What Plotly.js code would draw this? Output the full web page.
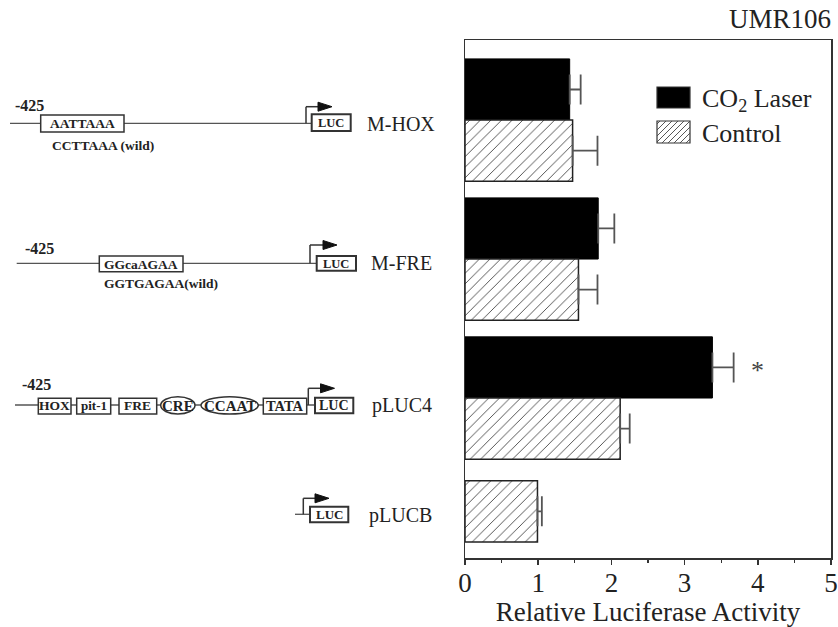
<!DOCTYPE html>
<html>
<head>
<meta charset="utf-8">
<script src="https://cdn.plot.ly/plotly-3.0.1.min.js"></script>
<style>html,body{margin:0;padding:0;background:#fff;}#chart{width:838px;height:627px;}</style>
</head>
<body>
<div id="chart"></div>
<script>
// ---- data ----
const constructs = ['M-HOX', 'M-FRE', 'pLUC4', 'pLUCB'];
const co2Laser = [1.43, 1.82, 3.38, null];
const co2LaserErr = [0.15, 0.22, 0.29, null];
const control = [1.47, 1.55, 2.12, 0.99];
const controlErr = [0.34, 0.26, 0.13, 0.06];
const xTicks = [0, 1, 2, 3, 4, 5];
const seriesNames = ['CO<sub>2</sub> Laser', 'Control'];

// ---- layout geometry (pixels) ----
const W = 838, H = 627, L = 465, R = 831, T = 40, B = 558;
const X = x => (x - L) / (R - L);
const Y = y => (B - y) / (B - T);
const FONT = 'Liberation Serif, Times New Roman, serif';
const LINEC = '#555', BOXC = '#333', TXT = '#222';

const shapes = [];
const annotations = [];
function line(x0, y0, x1, y1, w, c) {
  shapes.push({type: 'line', xref: 'paper', yref: 'paper', x0: X(x0), y0: Y(y0), x1: X(x1), y1: Y(y1),
    line: {color: c || LINEC, width: w || 1.3}});
}
function rect(x0, y0, x1, y1, w, fill) {
  shapes.push({type: 'rect', xref: 'paper', yref: 'paper', x0: X(x0), y0: Y(y0), x1: X(x1), y1: Y(y1),
    line: {color: BOXC, width: w || 1.5}, fillcolor: fill || 'white'});
}
function ellipse(x0, y0, x1, y1) {
  shapes.push({type: 'circle', xref: 'paper', yref: 'paper', x0: X(x0), y0: Y(y0), x1: X(x1), y1: Y(y1),
    line: {color: BOXC, width: 1.5}, fillcolor: 'white'});
}
function promoter(x, yBase, yTop, tip) {
  line(x, yBase, x, yTop, 1.5, '#333');
  line(x, yTop, tip - 12, yTop, 1.5, '#333');
  const p = 'M' + X(tip - 14) + ',' + Y(yTop - 4.5) + ' L' + X(tip) + ',' + Y(yTop) + ' L' + X(tip - 14) + ',' + Y(yTop + 4.5) + ' Z';
  shapes.push({type: 'path', xref: 'paper', yref: 'paper', path: p, fillcolor: '#111', line: {color: '#111', width: 1}});
}
function text(x, y, s, size, anchor, color) {
  annotations.push({xref: 'paper', yref: 'paper', x: X(x), y: Y(y), text: s, showarrow: false,
    xanchor: anchor || 'center', yanchor: 'middle', font: {family: FONT, size: size, color: color || TXT}});
}
function boxText(x0, x1, y, s, size) { text((x0 + x1) / 2, y, '<b>' + s + '</b>', size || 13); }

// Row 1: M-HOX
text(30, 106, '<b>-425</b>', 16);
line(10, 123.3, 311.7, 123.3);
rect(40.7, 115, 124, 132);
boxText(40.7, 124, 123.8, 'AATTAAA', 13.5);
promoter(306, 123.3, 106.7, 332);
rect(311.7, 114.3, 350.7, 131, 2);
boxText(311.7, 350.7, 123, 'LUC', 12.5);
text(102.5, 145.7, '<b>CCTTAAA (wild)</b>', 13.5);

// Row 2: M-FRE
text(39.5, 248, '<b>-425</b>', 16);
line(16.7, 263.3, 316.7, 263.3);
rect(99.3, 256, 183, 271.7);
boxText(99.3, 183, 264, 'GGcaAGAA', 13.5);
promoter(310, 263.3, 245, 337);
rect(316.7, 256, 356, 270.7, 2);
boxText(316.7, 356, 263.5, 'LUC', 12.5);
text(160.5, 283.3, '<b>GGTGAGAA(wild)</b>', 13.5);

// Row 3: pLUC4
text(36.3, 384, '<b>-425</b>', 16);
line(15, 405, 315, 405);
rect(38.3, 398.3, 71, 414);    boxText(38.3, 71, 406, 'HOX', 13.5);
rect(76.7, 398.3, 110.7, 414); boxText(76.7, 110.7, 406, 'pit-1', 13);
rect(119, 398.3, 156.7, 414);  boxText(119, 156.7, 406, 'FRE', 13.5);
ellipse(160.7, 396.7, 195, 414); boxText(160.7, 195, 405.5, 'CRE', 15);
ellipse(201, 396.7, 258.3, 414); boxText(201, 258.3, 405.5, 'CCAAT', 15);
rect(263.3, 398.3, 306.7, 414); boxText(263.3, 306.7, 406, 'TATA', 14.5);
promoter(308.3, 405, 388.3, 334.5);
rect(315, 397.7, 353.3, 413.3, 2);
boxText(315, 353.3, 405.5, 'LUC', 14);

// Row 4: pLUCB
line(295, 514.3, 310, 514.3);
promoter(303.3, 514.3, 498.3, 329);
rect(310, 506.7, 348.3, 522.3, 2);
boxText(310, 348.3, 514.5, 'LUC', 13);

// construct names
const labelX = [365, 369, 370, 367];
const labelY = [124, 263, 405, 515];
constructs.forEach((c, i) => text(labelX[i], labelY[i], c, 20, 'left'));

// legend (manual)
rect(657, 87, 690, 108, 1.2, '#000');
rect(657, 121, 690, 143, 1.2, 'white');
(function hatch(x0, y0, x1, y1, step) {
  for (let c = x0 + y0 + step / 2; c < x1 + y1; c += step) {
    const xa = Math.max(x0, c - y1), xb = Math.min(x1, c - y0);
    if (xb > xa) line(xa, c - xa, xb, c - xb, 0.9, '#444');
  }
})(657, 121, 690, 143, 6);
text(700, 100, seriesNames[0], 26, 'left');
text(700, 133, seriesNames[1], 26, 'left');

// title + significance
text(833, 19, 'UMR106', 27, 'right');
text(757, 371, '*', 26, 'center', '#444');

const traces = [
  {type: 'bar', orientation: 'h', name: seriesNames[0], y: constructs, x: co2Laser,
   width: 0.44, offset: -0.44,
   marker: {color: '#000', line: {color: '#000', width: 1}},
   error_x: {type: 'data', array: co2LaserErr, arrayminus: [0, 0, 0, 0], symmetric: false,
     color: '#555', thickness: 1.8, width: 15},
   showlegend: false, hoverinfo: 'none'},
  {type: 'bar', orientation: 'h', name: seriesNames[1], y: constructs, x: control,
   width: 0.44, offset: [0, 0, 0, -0.405],
   marker: {color: 'white',
     pattern: {shape: '/', fgcolor: '#444', bgcolor: 'white', size: 7.5, solidity: 0.12, fillmode: 'replace'},
     line: {color: '#222', width: 1.5}},
   error_x: {type: 'data', array: controlErr, arrayminus: [0, 0, 0, 0], symmetric: false,
     color: '#555', thickness: 1.8, width: 15},
   showlegend: false, hoverinfo: 'none'}
];

const layout = {
  width: W, height: H,
  margin: {l: L, r: W - R, t: T, b: H - B, pad: 0},
  paper_bgcolor: 'white', plot_bgcolor: 'white',
  font: {family: FONT, color: TXT},
  barmode: 'overlay',
  showlegend: false,
  xaxis: {
    range: [0, 5], tickvals: xTicks, ticktext: xTicks.map(String),
    ticks: 'outside', ticklen: 5, tickwidth: 1.5, tickcolor: '#333',
    minor: {dtick: 0.5, ticks: 'outside', ticklen: 3, tickwidth: 1.3, tickcolor: '#333'},
    showline: true, mirror: true, linecolor: '#333', linewidth: 1.5,
    showgrid: false, zeroline: false,
    ticklabeloverflow: 'allow', ticklabelstandoff: -5,
    tickfont: {family: FONT, size: 27, color: TXT},
    title: {text: 'Relative Luciferase Activity', font: {family: FONT, size: 27, color: TXT}, standoff: 0},
    automargin: false, fixedrange: true
  },
  yaxis: {
    type: 'category', categoryarray: constructs,
    range: [3.151, -0.576],
    showticklabels: false, ticks: '',
    showline: true, mirror: true, linecolor: '#333', linewidth: 1.5,
    showgrid: false, zeroline: false, automargin: false, fixedrange: true
  },
  shapes: shapes,
  annotations: annotations
};

Plotly.newPlot('chart', traces, layout, {displayModeBar: false, staticPlot: true});
</script>
</body>
</html>
